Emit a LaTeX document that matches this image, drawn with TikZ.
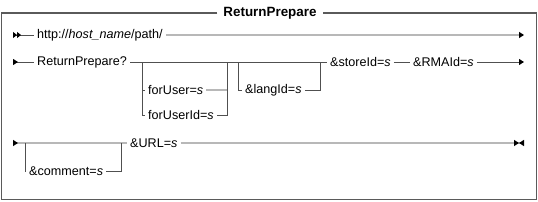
\documentclass[tikz,border=0pt]{standalone}
\usepackage{fontspec}
\setmainfont{Liberation Sans}
\usetikzlibrary{arrows.meta}
\definecolor{dkgray}{HTML}{505050}
\definecolor{ltgray}{HTML}{B8B8B8}
\definecolor{framegray}{HTML}{5A5A5A}
\begin{document}
\begin{tikzpicture}[x=1pt,y=-1pt,
every node/.style={anchor=west,inner sep=3pt,font=\fontsize{12.6}{14}\selectfont},
dk/.style={draw=dkgray,line width=1pt},
lt/.style={draw=ltgray,line width=1.4pt},
tip/.style={Triangle[length=5pt,width=6pt,color=black]},
begin/.style={{Triangle[reversed,length=5pt,width=6pt,color=black]}-},
begintwo/.style={{Triangle[reversed,length=4pt,width=6pt,color=black]Triangle[reversed,length=4pt,width=6pt,color=black]}-},
finish/.style={-{Triangle[length=5pt,width=6pt,color=black]}},
stop/.style={-{Triangle[length=5pt,width=6pt,color=black]Triangle[reversed,length=5pt,width=6pt,color=black]}}]
\useasboundingbox (0,0) rectangle (538,201);
% frame and title
\node[anchor=center,inner sep=6pt,font=\fontsize{13.4}{15}\bfseries] (T) at (270,13) {ReturnPrepare};
\draw[draw=framegray,line width=1.6pt] (T.west) -- (1.5,13) -- (1.5,199.5) -- (536.5,199.5) -- (536.5,13) -- (T.east);
% row 1
\coordinate (S1) at (13,35);
\coordinate (E1) at (524,35);
\node (http) at (34,35) {http://\textit{host\_name}/path/};
\draw[dk,begintwo] (S1) -- (http);
\draw[lt,finish] (http) -- (E1);
% row 2
\coordinate (S2) at (13,62);
\coordinate (E2) at (524,62);
\coordinate (A1) at (142,62);
\coordinate (B1) at (227,62);
\coordinate (A2) at (238,62);
\coordinate (B2) at (320,62);
\node (rp) at (34,62) {ReturnPrepare?};
\node (fu) at (145,90) {forUser=\textit{s}};
\node (fui) at (145,115) {forUserId=\textit{s}};
\node (lang) at (242,90) {\&langId=\textit{s}};
\node (store) at (327,62) {\&storeId=\textit{s}};
\node (rma) at (410,62) {\&RMAId=\textit{s}};
\draw[dk,begin] (S2) -- (rp);
\draw[dk] (rp) -- (store);
\draw[dk] (store) -- (rma);
\draw[dk,finish] (rma) -- (E2);
\draw[dk] (A1) |- (fui);
\draw[dk] (A1 |- fu) -- (fu);
\draw[lt] (fu) -- (B1 |- fu);
\draw[dk] (fui) -| (B1);
\draw[dk] (A2) |- (lang);
\draw[dk] (lang) -| (B2);
% row 3
\coordinate (S3) at (13,143);
\coordinate (E3) at (524,143);
\coordinate (A3) at (25,143);
\coordinate (B3) at (121,143);
\node (url) at (127,143) {\&URL=\textit{s}};
\node (com) at (26,171) {\&comment=\textit{s}};
\draw[lt,begin] (S3) -- (url);
\draw[dk] (A3) |- (com);
\draw[dk] (com) -| (B3);
\draw[lt,stop] (url) -- (E3);
\end{tikzpicture}
\end{document}
